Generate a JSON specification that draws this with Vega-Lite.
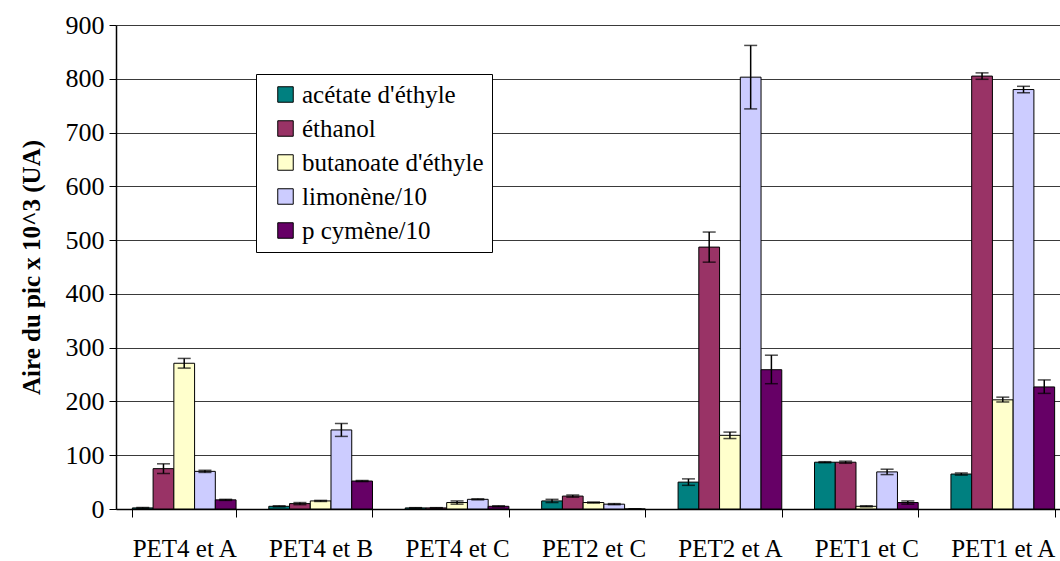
{
  "$schema": "https://vega.github.io/schema/vega-lite/v6.json",
  "autosize": {"type": "none"},
  "width": 955,
  "height": 484,
  "padding": {"left": 116, "top": 25, "right": 0, "bottom": 52},
  "background": "white",
  "config": {
    "font": "Liberation Serif",
    "axis": {"labelFont": "Liberation Serif", "titleFont": "Liberation Serif"},
    "legend": {"labelFont": "Liberation Serif", "titleFont": "Liberation Serif"},
    "view": {"stroke": null}
  },
  "data": {
    "values": [
      {"groupe": "PET4 et A", "serie": "acétate d'éthyle", "valeur": 2, "lo": 1, "hi": 3},
      {"groupe": "PET4 et A", "serie": "éthanol", "valeur": 75, "lo": 66, "hi": 84},
      {"groupe": "PET4 et A", "serie": "butanoate d'éthyle", "valeur": 271, "lo": 262, "hi": 280},
      {"groupe": "PET4 et A", "serie": "limonène/10", "valeur": 70, "lo": 68, "hi": 72},
      {"groupe": "PET4 et A", "serie": "p cymène/10", "valeur": 17, "lo": 16, "hi": 18},
      {"groupe": "PET4 et B", "serie": "acétate d'éthyle", "valeur": 5, "lo": 4, "hi": 6},
      {"groupe": "PET4 et B", "serie": "éthanol", "valeur": 10, "lo": 8, "hi": 12},
      {"groupe": "PET4 et B", "serie": "butanoate d'éthyle", "valeur": 15, "lo": 14, "hi": 16},
      {"groupe": "PET4 et B", "serie": "limonène/10", "valeur": 147, "lo": 135, "hi": 159},
      {"groupe": "PET4 et B", "serie": "p cymène/10", "valeur": 52, "lo": 51, "hi": 53},
      {"groupe": "PET4 et C", "serie": "acétate d'éthyle", "valeur": 2, "lo": 1.5, "hi": 2.5},
      {"groupe": "PET4 et C", "serie": "éthanol", "valeur": 2, "lo": 1.5, "hi": 2.5},
      {"groupe": "PET4 et C", "serie": "butanoate d'éthyle", "valeur": 12, "lo": 9, "hi": 15},
      {"groupe": "PET4 et C", "serie": "limonène/10", "valeur": 18, "lo": 17, "hi": 19},
      {"groupe": "PET4 et C", "serie": "p cymène/10", "valeur": 5, "lo": 4, "hi": 6},
      {"groupe": "PET2 et C", "serie": "acétate d'éthyle", "valeur": 15, "lo": 12, "hi": 18},
      {"groupe": "PET2 et C", "serie": "éthanol", "valeur": 24, "lo": 22, "hi": 26},
      {"groupe": "PET2 et C", "serie": "butanoate d'éthyle", "valeur": 12, "lo": 11, "hi": 13},
      {"groupe": "PET2 et C", "serie": "limonène/10", "valeur": 9, "lo": 8, "hi": 10},
      {"groupe": "PET2 et C", "serie": "p cymène/10", "valeur": 0, "lo": 0, "hi": 0},
      {"groupe": "PET2 et A", "serie": "acétate d'éthyle", "valeur": 50, "lo": 44, "hi": 56},
      {"groupe": "PET2 et A", "serie": "éthanol", "valeur": 487, "lo": 459, "hi": 515},
      {"groupe": "PET2 et A", "serie": "butanoate d'éthyle", "valeur": 137, "lo": 131, "hi": 143},
      {"groupe": "PET2 et A", "serie": "limonène/10", "valeur": 803, "lo": 744, "hi": 862},
      {"groupe": "PET2 et A", "serie": "p cymène/10", "valeur": 259, "lo": 233, "hi": 286},
      {"groupe": "PET1 et C", "serie": "acétate d'éthyle", "valeur": 87, "lo": 86, "hi": 88},
      {"groupe": "PET1 et C", "serie": "éthanol", "valeur": 87, "lo": 85, "hi": 89},
      {"groupe": "PET1 et C", "serie": "butanoate d'éthyle", "valeur": 5, "lo": 4, "hi": 6},
      {"groupe": "PET1 et C", "serie": "limonène/10", "valeur": 69, "lo": 64, "hi": 74},
      {"groupe": "PET1 et C", "serie": "p cymène/10", "valeur": 12, "lo": 9, "hi": 15},
      {"groupe": "PET1 et A", "serie": "acétate d'éthyle", "valeur": 65, "lo": 63, "hi": 67},
      {"groupe": "PET1 et A", "serie": "éthanol", "valeur": 805, "lo": 799, "hi": 811},
      {"groupe": "PET1 et A", "serie": "butanoate d'éthyle", "valeur": 203, "lo": 199, "hi": 208},
      {"groupe": "PET1 et A", "serie": "limonène/10", "valeur": 780, "lo": 774, "hi": 786},
      {"groupe": "PET1 et A", "serie": "p cymène/10", "valeur": 227, "lo": 215, "hi": 240}
    ]
  },
  "encoding": {
    "x": {
      "field": "groupe",
      "type": "nominal",
      "sort": ["PET4 et A", "PET4 et B", "PET4 et C", "PET2 et C", "PET2 et A", "PET1 et C", "PET1 et A"],
      "scale": {"paddingInner": 0.24, "paddingOuter": 0.12},
      "axis": {
        "title": null,
        "labelAngle": 0,
        "labelFont": "Liberation Serif",
        "labelFontSize": 25,
        "labelColor": "black",
        "labelPadding": 19,
        "tickBand": "extent",
        "tickSize": 8,
        "tickColor": "black",
        "domainColor": "black",
        "domainWidth": 1.5,
        "grid": false
      }
    },
    "xOffset": {
      "field": "serie",
      "type": "nominal",
      "sort": ["acétate d'éthyle", "éthanol", "butanoate d'éthyle", "limonène/10", "p cymène/10"]
    }
  },
  "layer": [
    {
      "mark": {"type": "bar", "stroke": "black", "strokeWidth": 1},
      "encoding": {
        "y": {
          "field": "valeur",
          "type": "quantitative",
          "scale": {"domain": [0, 900], "nice": false},
          "axis": {
            "title": "Aire du pic x 10^3 (UA)",
            "titleFont": "Liberation Serif",
            "titleFontSize": 25,
            "titleFontWeight": "bold",
            "titleColor": "black",
            "titlePadding": 21,
            "values": [0, 100, 200, 300, 400, 500, 600, 700, 800, 900],
            "labelFont": "Liberation Serif",
            "labelFontSize": 26,
            "labelColor": "black",
            "labelPadding": 5,
            "tickSize": 7,
            "tickColor": "black",
            "domainColor": "black",
            "domainWidth": 1.5,
            "grid": true,
            "gridColor": "#3a3a3a",
            "gridWidth": 1.2
          }
        },
        "color": {
          "field": "serie",
          "type": "nominal",
          "scale": {
            "domain": ["acétate d'éthyle", "éthanol", "butanoate d'éthyle", "limonène/10", "p cymène/10"],
            "range": ["#008080", "#993366", "#FFFFCC", "#CCCCFF", "#660066"]
          },
          "legend": {
            "title": null,
            "orient": "none",
            "legendX": 140,
            "legendY": 49,
            "symbolType": "square",
            "symbolSize": 240,
            "symbolStrokeColor": "black",
            "symbolStrokeWidth": 1,
            "symbolOpacity": 1,
            "symbolOffset": 9,
            "labelFont": "Liberation Serif",
            "labelFontSize": 25,
            "labelColor": "black",
            "labelOffset": 4,
            "rowPadding": 8,
            "padding": 8,
            "strokeColor": "black",
            "fillColor": "white",
            "labelLimit": 300
          }
        }
      }
    },
    {
      "mark": {"type": "rule", "color": "black", "strokeWidth": 1.5},
      "encoding": {
        "y": {"field": "lo", "type": "quantitative"},
        "y2": {"field": "hi"}
      }
    },
    {
      "mark": {"type": "tick", "color": "black", "thickness": 1.5, "size": 13},
      "encoding": {
        "y": {"field": "lo", "type": "quantitative"}
      }
    },
    {
      "mark": {"type": "tick", "color": "black", "thickness": 1.5, "size": 13},
      "encoding": {
        "y": {"field": "hi", "type": "quantitative"}
      }
    }
  ]
}
